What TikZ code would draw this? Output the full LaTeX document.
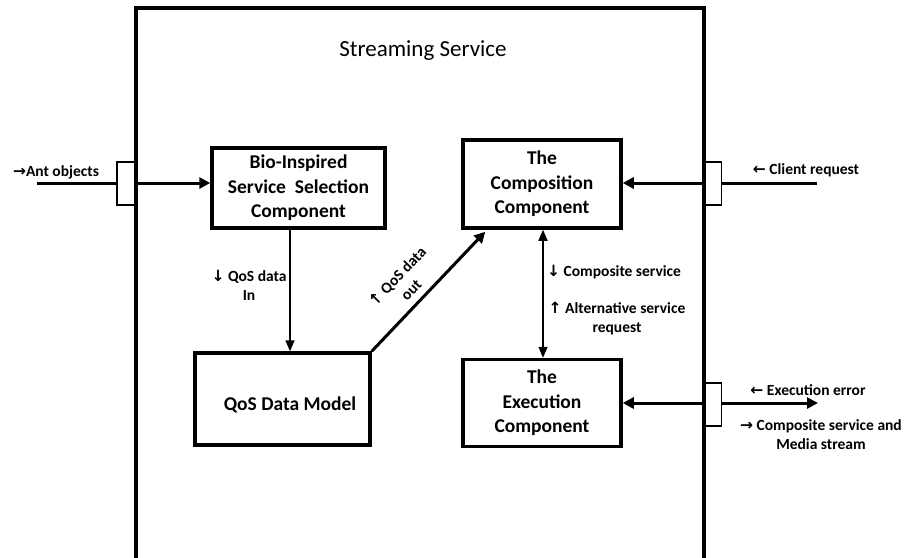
\documentclass[tikz,border=0pt]{standalone}
\usepackage{fontspec}
\setmainfont{Carlito}
\newfontfamily\arr{DejaVu Sans}
\usetikzlibrary{arrows.meta,calc}
\begin{document}
\begin{tikzpicture}[x=1pt,y=-1pt,
  comp/.style={draw,line width=3.5pt,align=center,font=\bfseries\fontsize{19.5}{24.5}\selectfont,inner sep=0pt},
  port/.style={draw,line width=1.3pt,fill=white,minimum width=19pt,minimum height=43pt,inner sep=0pt},
  lbl/.style={font=\bfseries\fontsize{15.5}{19}\selectfont,align=center,inner sep=0pt},
  thick arrow/.style={line width=3pt,-{Triangle[length=11pt,width=11pt]}},
  thin arrow/.style={line width=1.5pt,-{Triangle[length=11pt,width=9pt]}}]
\useasboundingbox (0,0) rectangle (909,557);
% outer frame
\draw[line width=3.5pt] (136,560) -- (136,8) -- (704,8) -- (704,560);
\node[font=\fontsize{23}{26}\selectfont] (title) at (423,51) {Streaming Service};
% components
\node[comp,minimum width=173pt,minimum height=80pt] (bio) at (298.5,188) {Bio-Inspired\\Service\ \ Selection\\Component};
\node[comp,minimum width=158pt,minimum height=88pt] (compo) at (542,184) {The\\Composition\\Component};
\node[comp,minimum width=175pt,minimum height=92pt] (qos) at (282.5,399) {};
\node[font=\bfseries\fontsize{19.5}{24.5}\selectfont] (qostext) at (290,405) {QoS Data Model};
\node[comp,minimum width=158pt,minimum height=87pt] (exec) at (542,403) {The\\Execution\\Component};
% ports
\node[port] (pl) at (126.5,183.5) {};
\node[port] (pr) at (712,183.5) {};
\node[port] (pe) at (712,404.5) {};
\draw[line width=3.5pt] (136,162) -- (136,205);
\draw[line width=3.5pt] (704,162) -- (704,205);
\draw[line width=3.5pt] (704,383) -- (704,426);
% external coordinates
\coordinate (antstart) at (37,183);
\coordinate (clientend) at (817,183);
\coordinate (outend) at (818,403);
% connectors
\draw[line width=3pt] (antstart) -- (pl.west |- antstart);
\draw[thick arrow] (pl.east |- antstart) -- (bio.west |- antstart);
\draw[line width=3pt] (clientend) -- (pr.east |- clientend);
\draw[thick arrow] (pr.west |- clientend) -- (compo.east |- clientend);
\draw[thick arrow] (pe.west |- outend) -- (exec.east |- outend);
\draw[thick arrow] (pe.east |- outend) -- (outend);
\draw[thin arrow] (bio.south -| 290,0) -- (qos.north -| 290,0);
\draw[thick arrow] (qos.north east) -- ($(compo.south west)+(24,2)$);
\draw[line width=1.5pt,{Triangle[length=11pt,width=9pt]}-{Triangle[length=11pt,width=9pt]}] (compo.south -| 543,0) -- (exec.north -| 543,0);
% labels
\node[lbl] (lant) at (56,172) {{\arr →}Ant objects};
\node[lbl] (lclient) at (806,170) {{\arr ←} Client request};
\node[lbl] (lqin) at (249,285) {{\arr ↓} QoS data\\In};
\node[lbl,rotate=46] (lqout) at (404,283) {{\arr ↑} QoS data\\out};
\node[lbl,anchor=west] (lcs) at (547,272) {{\arr ↓} Composite service};
\node[lbl] (lalt) at (617,319) {{\arr ↑} Alternative service\\request};
\node[lbl] (lerr) at (808,390) {{\arr ←} Execution error};
\node[lbl] (lmedia) at (821,435) {{\arr →} Composite service and\\Media stream};
\end{tikzpicture}
\end{document}
